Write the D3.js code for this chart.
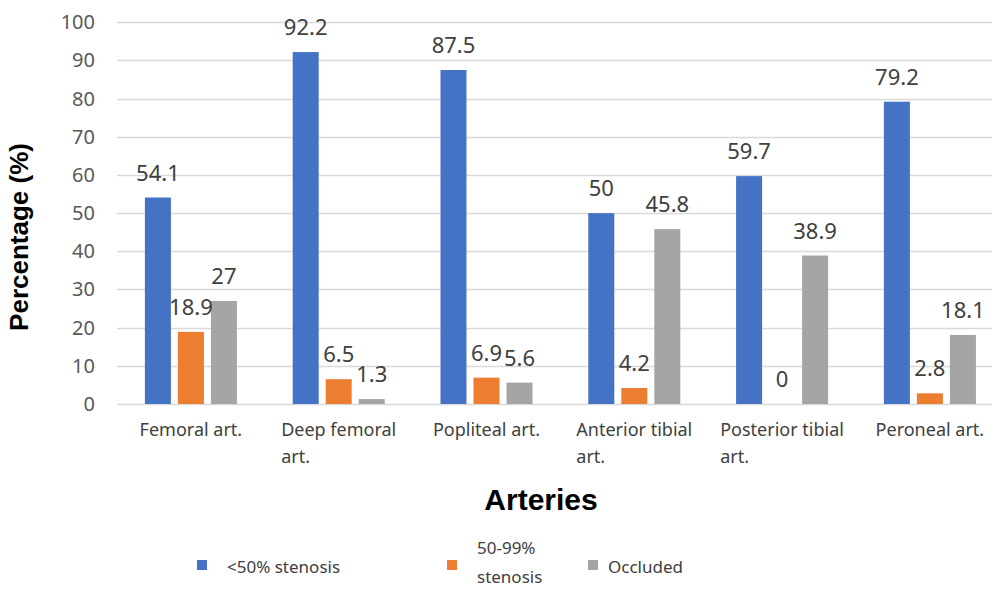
<!DOCTYPE html>
<html>
<head>
<meta charset="utf-8">
<script src="https://cdn.jsdelivr.net/npm/d3@7"></script>
<style>
  body { margin: 0; background: #fff; }
  svg { display: block; font-family: "Noto Sans", "Open Sans", sans-serif; }
</style>
</head>
<body>
<svg id="chart" width="992" height="589"></svg>
<script>
'use strict';

var categories = ["Femoral art.", "Deep femoral art.", "Popliteal art.",
                  "Anterior tibial art.", "Posterior tibial art.", "Peroneal art."];
var seriesNames = ["<50% stenosis", "50-99% stenosis", "Occluded"];
var lt50 = [54.1, 92.2, 87.5, 50, 59.7, 79.2];
var mid5099 = [18.9, 6.5, 6.9, 4.2, 0, 2.8];
var occluded = [27, 1.3, 5.6, 45.8, 38.9, 18.1];
var yTicks = [0, 10, 20, 30, 40, 50, 60, 70, 80, 90, 100];
var colors = ["#4472C4", "#ED7D31", "#A5A5A5"];

var svg = d3.select("#chart"),
    W = 992, H = 589,
    left = 117, step = 147.8,
    y0 = 404, y100 = 22.3;

var series = [lt50, mid5099, occluded];
var rows = categories.map(function(c, i) {
    return { cat: c, vals: series.map(function(s, k) { return { k: k, v: s[i] }; }) };
});

var x0 = d3.scaleBand().domain(categories).range([left, left + step * categories.length]);
// 26px bars, 7px gaps, centered in the band
var x1 = d3.scaleBand().domain([0, 1, 2]).range([0, x0.bandwidth()])
    .paddingInner(7 / 33).paddingOuter(0.845);
var y = d3.scaleLinear().domain([0, 100]).range([y0, y100]);

// gridlines
svg.append("g").selectAll("line").data(yTicks).join("line")
    .attr("x1", left).attr("x2", W)
    .attr("y1", function(d) { return Math.round(y(d)) + 0.5; })
    .attr("y2", function(d) { return Math.round(y(d)) + 0.5; })
    .style("stroke", "#D9D9D9").style("stroke-width", 1.3);

// y tick labels
svg.append("g").selectAll("text").data(yTicks).join("text")
    .attr("x", 95).attr("y", function(d) { return y(d); })
    .attr("dy", "0.35em")
    .style("text-anchor", "end").style("font-size", "20px").style("fill", "#595959")
    .text(function(d) { return d; });

// bars
var groups = svg.append("g").selectAll("g").data(rows).join("g")
    .attr("transform", function(d) { return "translate(" + x0(d.cat) + ",0)"; });

groups.selectAll("rect").data(function(d) { return d.vals; }).join("rect")
    .attr("x", function(d) { return x1(d.k); })
    .attr("width", x1.bandwidth())
    .attr("y", function(d) { return y(d.v); })
    .attr("height", function(d) { return y0 - y(d.v); })
    .style("fill", function(d) { return colors[d.k]; });

groups.selectAll("text").data(function(d) { return d.vals; }).join("text")
    .attr("x", function(d) { return x1(d.k) + x1.bandwidth() / 2; })
    .attr("y", function(d) { return y(d.v) - 17; })
    .style("text-anchor", "middle").style("font-size", "22px").style("fill", "#404040")
    .text(function(d) { return d.v; });

// category labels, wrapped, block centered in band
function wrapLines(str, maxW, node) {
    var words = str.split(" "), lines = [], cur = "";
    words.forEach(function(w) {
        var test = cur ? cur + " " + w : w;
        node.text(test);
        if (cur && node.node().getComputedTextLength() > maxW) {
            lines.push(cur);
            cur = w;
        } else {
            cur = test;
        }
    });
    lines.push(cur);
    return lines;
}

categories.forEach(function(c) {
    var t = svg.append("text").style("font-size", "18px").style("fill", "#404040");
    var lines = wrapLines(c, 130, t);
    var widest = 0;
    lines.forEach(function(l) {
        t.text(l);
        widest = Math.max(widest, t.node().getComputedTextLength());
    });
    t.text(null);
    var cx = x0(c) + x0.bandwidth() / 2;
    lines.forEach(function(l, i) {
        t.append("tspan").attr("x", cx - widest / 2).attr("y", 436 + i * 27).text(l);
    });
});

// axis titles
svg.append("text")
    .attr("transform", "translate(28,237) rotate(-90)")
    .style("text-anchor", "middle").style("font-family", "'Liberation Sans', Arial, sans-serif")
    .style("font-weight", "bold").style("font-size", "26px").style("fill", "#000")
    .text("Percentage (%)");

svg.append("text")
    .attr("x", 541).attr("y", 510)
    .style("text-anchor", "middle").style("font-family", "'Liberation Sans', Arial, sans-serif")
    .style("font-weight", "bold").style("font-size", "30px").style("fill", "#000")
    .text("Arteries");

// legend
var legendItems = [
    { sx: 197, tx: 227, lines: ["<50% stenosis"], y: 573 },
    { sx: 447, tx: 477, lines: ["50-99%", "stenosis"], y: 554 },
    { sx: 588, tx: 608, lines: ["Occluded"], y: 573 }
];
legendItems.forEach(function(d, k) {
    svg.append("rect").attr("x", d.sx).attr("y", 560).attr("width", 10).attr("height", 10)
        .style("fill", colors[k]);
    var t = svg.append("text").style("font-size", "17px").style("fill", "#404040");
    d.lines.forEach(function(l, i) {
        t.append("tspan").attr("x", d.tx).attr("y", d.y + i * 29).text(l);
    });
});
</script>
</body>
</html>
